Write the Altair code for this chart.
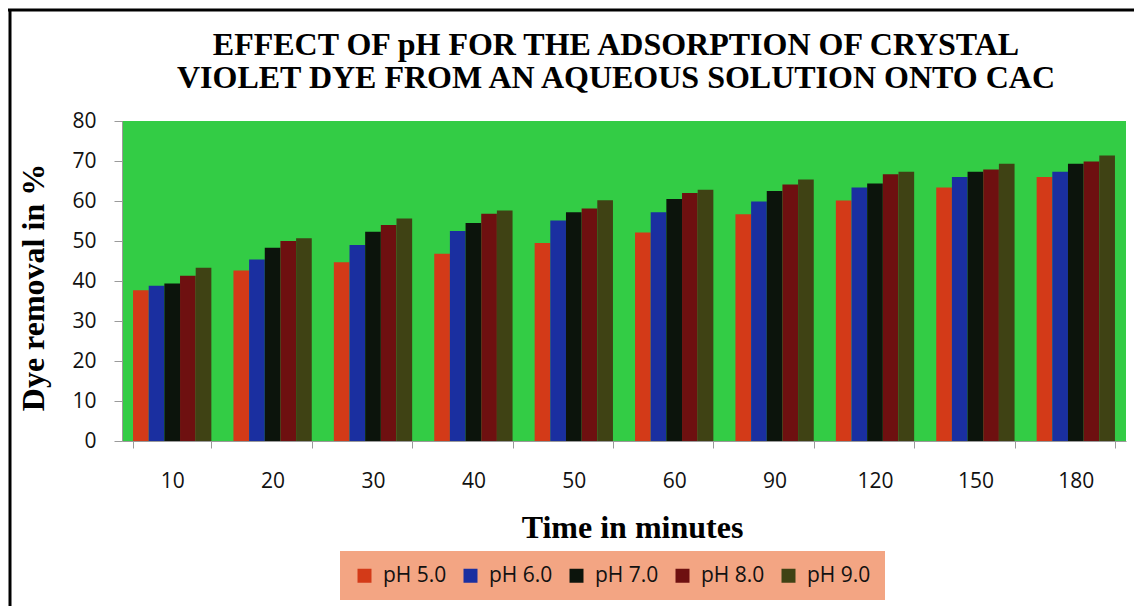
import altair as alt
import pandas as pd

times = ["10", "20", "30", "40", "50", "60", "90", "120", "150", "180"]
series = ["pH 5.0", "pH 6.0", "pH 7.0", "pH 8.0", "pH 9.0"]
ph5 = [37.7, 42.6, 44.7, 46.8, 49.5, 52.1, 56.7, 60.1, 63.4, 66.0]
ph6 = [38.8, 45.4, 49.0, 52.5, 55.1, 57.2, 59.9, 63.4, 66.0, 67.3]
ph7 = [39.4, 48.3, 52.3, 54.5, 57.2, 60.5, 62.5, 64.4, 67.3, 69.3]
ph8 = [41.3, 50.0, 54.0, 56.8, 58.1, 62.0, 64.1, 66.7, 67.9, 69.9]
ph9 = [43.3, 50.7, 55.6, 57.6, 60.2, 62.8, 65.4, 67.3, 69.3, 71.4]
y_ticks = [0, 10, 20, 30, 40, 50, 60, 70, 80]
colors = ["#D33A18", "#1A2FA0", "#0C140C", "#6E1010", "#3F4214"]

rows = []
for s, vals in zip(series, [ph5, ph6, ph7, ph8, ph9]):
    for t, v in zip(times, vals):
        rows.append({"time": t, "series": s, "value": v})
df = pd.DataFrame(rows)

serif = "Liberation Serif"
sans = "Open Sans"

bars = alt.Chart(df).mark_bar().encode(
    x=alt.X(
        "time:N",
        sort=times,
        scale=alt.Scale(paddingInner=0.22, paddingOuter=0.11),
        axis=alt.Axis(
            title="Time in minutes",
            labelAngle=0,
            tickBand="extent",
            tickSize=7,
            labelPadding=33,
            labelBaseline="middle",
            labelFont=sans,
            labelFontSize=21,
            labelColor="#111111",
            domainColor="#9a9a9a",
            tickColor="#9a9a9a",
            titleFont=serif,
            titleFontSize=32,
            titleFontWeight="bold",
            titleColor="black",
            titleX=510,
            titleY=96,
            titleBaseline="alphabetic",
            titleAlign="center",
        ),
    ),
    xOffset=alt.XOffset("series:N", sort=series, scale=alt.Scale(paddingInner=0, paddingOuter=0)),
    y=alt.Y(
        "value:Q",
        scale=alt.Scale(domain=[0, 80], nice=False),
        axis=alt.Axis(
            title="Dye removal in %",
            values=y_ticks,
            grid=False,
            tickSize=8,
            labelPadding=18,
            labelFont=sans,
            labelFontSize=21,
            labelColor="#111111",
            domainColor="#9a9a9a",
            tickColor="#9a9a9a",
            titleFont=serif,
            titleFontSize=32,
            titleFontWeight="bold",
            titleColor="black",
            titleAngle=-90,
            titleX=-89,
            titleY=166,
            titleAlign="center",
            titleBaseline="middle",
        ),
    ),
    color=alt.Color(
        "series:N",
        sort=series,
        scale=alt.Scale(domain=series, range=colors),
        legend=alt.Legend(
            title=None,
            orient="none",
            legendX=218,
            legendY=430,
            direction="horizontal",
            fillColor="#F3A583",
            padding=14,
            symbolType="square",
            symbolSize=196,
            symbolStrokeWidth=0,
            symbolOpacity=1,
            labelFont=sans,
            labelFontSize=21,
            labelColor="#111111",
            labelOffset=8,
            columnPadding=13,
        ),
    ),
)

frame_df = pd.DataFrame({"a": [0]})
top_line = alt.Chart(frame_df).mark_rule(color="black", strokeWidth=3).encode(
    x=alt.value(-114), x2=alt.value(1018), y=alt.value(-111)
)
left_line = alt.Chart(frame_df).mark_rule(color="black", strokeWidth=3).encode(
    x=alt.value(-112), y=alt.value(-112), y2=alt.value(485)
)
right_line = alt.Chart(frame_df).mark_rule(color="#444444", strokeWidth=1.2).encode(
    x=alt.value(1016), y=alt.value(-112), y2=alt.value(485)
)

chart = alt.layer(bars, top_line, left_line, right_line).properties(
    width=1004,
    height=320,
    autosize=alt.AutoSizeParams(type="none"),
    padding={"left": 114, "top": 113, "right": 8, "bottom": 165},
    title=alt.Title(
        text=["EFFECT OF pH FOR THE ADSORPTION OF CRYSTAL",
              "VIOLET DYE FROM AN AQUEOUS SOLUTION ONTO CAC"],
        font=serif,
        fontSize=32,
        fontWeight="bold",
        color="black",
        anchor="middle",
        lineHeight=33,
        dx=-8,
        offset=-87,
    ),
).configure(background="white").configure_view(fill="#33CC45", strokeWidth=0)

chart.save("out.html", embed_options={"renderer": "svg", "actions": False})
